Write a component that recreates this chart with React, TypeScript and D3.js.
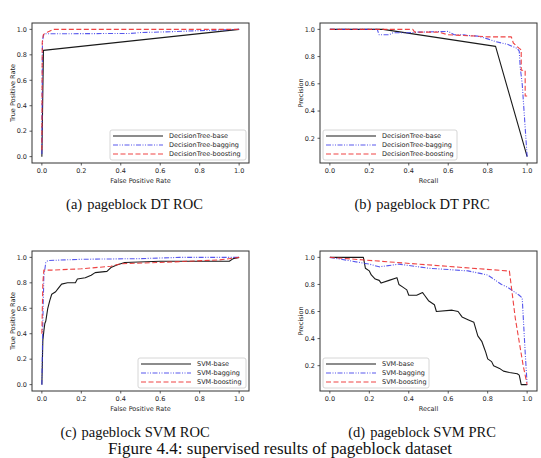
import React from "react";
import * as d3 from "d3";

type Pt = [number, number];

// ---------- data ----------
const seriesNamesDT = ["DecisionTree-base", "DecisionTree-bagging", "DecisionTree-boosting"];
const seriesNamesSVM = ["SVM-base", "SVM-bagging", "SVM-boosting"];

const dtRocBase: Pt[] = [[0, 0], [0.008, 0.835], [1, 1]];
const dtRocBagging: Pt[] = [[0, 0.02], [0.003, 0.9], [0.008, 0.955], [0.02, 0.965], [0.45, 0.968], [0.5, 0.975], [0.62, 0.98], [0.8, 0.99], [1, 1]];
const dtRocBoosting: Pt[] = [[0, 0.05], [0.002, 0.9], [0.008, 0.96], [0.03, 0.98], [0.06, 1.0], [1, 1]];

const dtPrcBase: Pt[] = [[0, 1], [0.27, 1], [0.84, 0.875], [1.0, 0.065]];
const dtPrcBagging: Pt[] = [[0, 1], [0.24, 1], [0.25, 0.96], [0.3, 0.96], [0.32, 0.975], [0.4, 0.975], [0.45, 0.98], [0.6, 0.985], [0.63, 0.96], [0.68, 0.96], [0.7, 0.955], [0.75, 0.95], [0.8, 0.93], [0.84, 0.91], [0.9, 0.89], [0.95, 0.86], [0.96, 0.84], [0.965, 0.72], [0.975, 0.6], [1.0, 0.065]];
const dtPrcBoosting: Pt[] = [[0, 1], [0.42, 1], [0.43, 0.98], [0.55, 0.98], [0.6, 0.96], [0.75, 0.95], [0.8, 0.945], [0.92, 0.945], [0.93, 0.9], [0.96, 0.86], [0.97, 0.85], [0.97, 0.7], [0.99, 0.7], [0.99, 0.51], [1.0, 0.51]];

const svmRocBase: Pt[] = [[0, 0], [0.005, 0.35], [0.01, 0.42], [0.015, 0.48], [0.02, 0.5], [0.025, 0.55], [0.03, 0.6], [0.04, 0.66], [0.05, 0.71], [0.07, 0.73], [0.08, 0.75], [0.09, 0.77], [0.1, 0.79], [0.13, 0.8], [0.17, 0.8], [0.18, 0.83], [0.22, 0.84], [0.25, 0.86], [0.27, 0.88], [0.33, 0.89], [0.35, 0.92], [0.38, 0.94], [0.42, 0.96], [0.6, 0.97], [0.95, 0.97], [0.97, 0.99], [1, 1]];
const svmRocBagging: Pt[] = [[0, 0], [0.005, 0.5], [0.01, 0.85], [0.02, 0.96], [0.03, 0.975], [0.2, 0.985], [0.5, 0.99], [0.7, 1.0], [1, 1]];
const svmRocBoosting: Pt[] = [[0, 0.4], [0.005, 0.8], [0.01, 0.9], [0.05, 0.9], [0.2, 0.91], [0.35, 0.93], [0.4, 0.95], [0.6, 0.96], [0.9, 0.98], [1, 1]];

const svmPrcBase: Pt[] = [[0, 1], [0.17, 1], [0.18, 0.92], [0.2, 0.9], [0.21, 0.87], [0.23, 0.84], [0.25, 0.83], [0.26, 0.81], [0.3, 0.83], [0.34, 0.85], [0.35, 0.8], [0.37, 0.78], [0.39, 0.76], [0.4, 0.72], [0.44, 0.72], [0.47, 0.74], [0.48, 0.72], [0.5, 0.68], [0.53, 0.65], [0.54, 0.6], [0.62, 0.61], [0.65, 0.6], [0.67, 0.56], [0.7, 0.54], [0.73, 0.52], [0.74, 0.47], [0.75, 0.42], [0.77, 0.38], [0.78, 0.34], [0.79, 0.3], [0.8, 0.25], [0.82, 0.23], [0.83, 0.2], [0.86, 0.18], [0.88, 0.16], [0.91, 0.15], [0.95, 0.14], [0.96, 0.13], [0.97, 0.06], [1.0, 0.06]];
const svmPrcBagging: Pt[] = [[0, 1], [0.2, 0.95], [0.25, 0.93], [0.35, 0.95], [0.5, 0.92], [0.7, 0.9], [0.8, 0.87], [0.87, 0.8], [0.9, 0.78], [0.96, 0.72], [0.975, 0.7], [0.99, 0.3], [1, 0.06]];
const svmPrcBoosting: Pt[] = [[0, 1], [0.9, 0.9], [0.91, 0.9], [0.94, 0.55], [0.98, 0.2], [1, 0.06]];

const rocTicks = [0.0, 0.2, 0.4, 0.6, 0.8, 1.0];
const prcTicks = [0.2, 0.4, 0.6, 0.8, 1.0];
const xTicks = [0.0, 0.2, 0.4, 0.6, 0.8, 1.0];

const captions = ["pageblock DT ROC", "pageblock DT PRC", "pageblock SVM ROC", "pageblock SVM PRC"];
const captionTags = ["(a)", "(b)", "(c)", "(d)"];
const figureCaption = "Figure 4.4: supervised results of pageblock dataset";

// ---------- styles ----------
const styles = [
  { color: "#1a1a1a", dash: "", width: 1.1, opacity: 1 },
  { color: "#3b3bea", dash: "5,1.5,1,1.5,1,1.5", width: 1.1, opacity: 0.85 },
  { color: "#ec2f2f", dash: "5,2.5", width: 1.1, opacity: 0.9 },
];

const SANS = "'DejaVu Sans', sans-serif";
const SERIF = "'Liberation Serif', 'Times New Roman', serif";

type PanelProps = {
  left: number; top: number; right: number; bottom: number;
  series: Pt[][]; names: string[];
  yTicks: number[]; yDomain: [number, number];
  xLabel: string; yLabel: string;
  legendSide: "left" | "right"; legendWidth: number;
  clipId: string;
};

function Panel(p: PanelProps) {
  const x = d3.scaleLinear().domain([-0.05, 1.05]).range([p.left, p.right]);
  const y = d3.scaleLinear().domain(p.yDomain).range([p.bottom, p.top]);
  const line = d3.line<Pt>().x(d => x(d[0])).y(d => y(d[1]));
  const lh = 30;
  const lx = p.legendSide === "right" ? p.right - 3 - p.legendWidth : p.left + 3;
  const ly = p.bottom - 3 - lh;
  return (
    <g>
      <defs>
        <clipPath id={p.clipId}>
          <rect x={p.left} y={p.top} width={p.right - p.left} height={p.bottom - p.top} />
        </clipPath>
      </defs>
      <g clipPath={`url(#${p.clipId})`}>
        {p.series.map((s, i) => (
          <path key={i} d={line(s) || ""} fill="none" stroke={styles[i].color}
            strokeWidth={styles[i].width} strokeDasharray={styles[i].dash || undefined}
            strokeOpacity={styles[i].opacity} strokeLinejoin="round" />
        ))}
      </g>
      <rect x={p.left} y={p.top} width={p.right - p.left} height={p.bottom - p.top}
        fill="none" stroke="#333" strokeWidth={1} />
      {xTicks.map(t => (
        <g key={"x" + t}>
          <line x1={x(t)} x2={x(t)} y1={p.bottom} y2={p.bottom + 2.5} stroke="#333" strokeWidth={0.8} />
          <text x={x(t)} y={p.bottom + 10} textAnchor="middle" fontSize={6.5} fontFamily={SANS} fill="#262626">{t.toFixed(1)}</text>
        </g>
      ))}
      {p.yTicks.map(t => (
        <g key={"y" + t}>
          <line x1={p.left - 2.5} x2={p.left} y1={y(t)} y2={y(t)} stroke="#333" strokeWidth={0.8} />
          <text x={p.left - 5} y={y(t) + 2.3} textAnchor="end" fontSize={6.5} fontFamily={SANS} fill="#262626">{t.toFixed(1)}</text>
        </g>
      ))}
      <text x={(p.left + p.right) / 2} y={p.bottom + 19.5} textAnchor="middle" fontSize={6.5} fontFamily={SANS} fill="#262626">{p.xLabel}</text>
      <text transform={`translate(${p.left - 17.5},${(p.top + p.bottom) / 2}) rotate(-90)`} textAnchor="middle" fontSize={6.5} fontFamily={SANS} fill="#262626">{p.yLabel}</text>
      <rect x={lx} y={ly} width={p.legendWidth} height={lh} rx={2} fill="#fff" fillOpacity={0.85} stroke="#cccccc" strokeWidth={0.8} />
      {p.names.map((n, i) => (
        <g key={n}>
          <line x1={lx + 3} x2={lx + 53} y1={ly + 6 + i * 9} y2={ly + 6 + i * 9}
            stroke={styles[i].color} strokeWidth={styles[i].width}
            strokeDasharray={styles[i].dash || undefined} strokeOpacity={styles[i].opacity} />
          <text x={lx + 59} y={ly + 6 + i * 9 + 2.3} fontSize={6.5} fontFamily={SANS} fill="#262626">{n}</text>
        </g>
      ))}
    </g>
  );
}

function prcDomain(series: Pt[][]): [number, number] {
  const ys = series.flat().map(d => d[1]);
  const lo = d3.min(ys) as number;
  const hi = d3.max(ys) as number;
  const pad = (hi - lo) * 0.05;
  return [lo - pad, hi + pad];
}

function Caption({ cx, y, tag, text }: { cx: number; y: number; tag: string; text: string }) {
  return (
    <text x={cx} y={y} textAnchor="middle" fontSize={14.5} fontFamily={SERIF} fill="#111">
      {tag}<tspan dx={5}>{text}</tspan>
    </text>
  );
}

export default function App() {
  const dtPrc = [dtPrcBase, dtPrcBagging, dtPrcBoosting];
  const svmPrc = [svmPrcBase, svmPrcBagging, svmPrcBoosting];
  return (
    <svg width={541} height={458} style={{ position: "absolute", left: 0, top: 0, background: "#fff" }}>
      <Panel left={32} top={23} right={249} bottom={163}
        series={[dtRocBase, dtRocBagging, dtRocBoosting]} names={seriesNamesDT}
        yTicks={rocTicks} yDomain={[-0.05, 1.05]} xLabel="False Positive Rate" yLabel="True Positive Rate"
        legendSide="right" legendWidth={136} clipId="c1" />
      <Panel left={320} top={23} right={537} bottom={163}
        series={dtPrc} names={seriesNamesDT}
        yTicks={prcTicks} yDomain={prcDomain(dtPrc)} xLabel="Recall" yLabel="Precision"
        legendSide="left" legendWidth={134} clipId="c2" />
      <Panel left={32} top={251} right={249} bottom={391}
        series={[svmRocBase, svmRocBagging, svmRocBoosting]} names={seriesNamesSVM}
        yTicks={rocTicks} yDomain={[-0.05, 1.05]} xLabel="False Positive Rate" yLabel="True Positive Rate"
        legendSide="right" legendWidth={108} clipId="c3" />
      <Panel left={320} top={251} right={537} bottom={391}
        series={svmPrc} names={seriesNamesSVM}
        yTicks={prcTicks} yDomain={prcDomain(svmPrc)} xLabel="Recall" yLabel="Precision"
        legendSide="left" legendWidth={106} clipId="c4" />
      <Caption cx={134.5} y={208.5} tag={captionTags[0]} text={captions[0]} />
      <Caption cx={422} y={208.5} tag={captionTags[1]} text={captions[1]} />
      <Caption cx={135} y={437} tag={captionTags[2]} text={captions[2]} />
      <Caption cx={422} y={437} tag={captionTags[3]} text={captions[3]} />
      <text x={280} y={454} textAnchor="middle" fontSize={17} fontFamily={SERIF} fill="#111">{figureCaption}</text>
    </svg>
  );
}
